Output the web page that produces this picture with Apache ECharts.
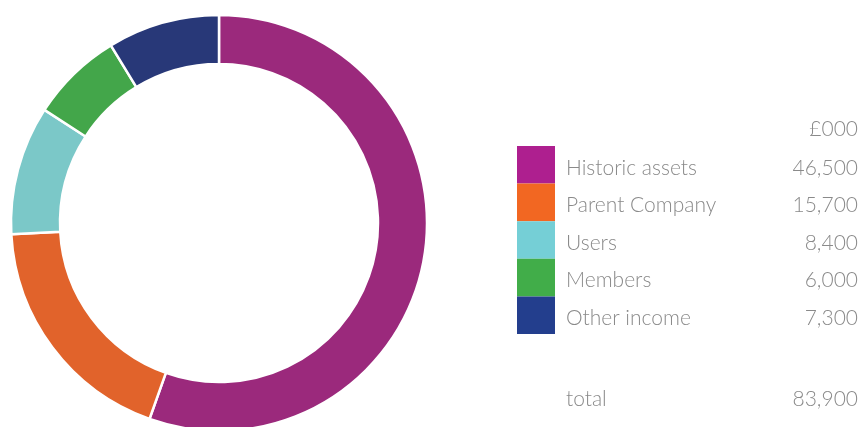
<!DOCTYPE html>
<html>
<head>
<meta charset="utf-8">
<script src="https://cdn.jsdelivr.net/npm/echarts@6/dist/echarts.min.js"></script>
<style>
  html, body {margin: 0; padding: 0; background: #fff;}
  #chart {width: 862px; height: 427px;}
</style>
</head>
<body>
<div id="chart"></div>
<script>
const categories = ['Historic assets', 'Parent Company', 'Users', 'Members', 'Other income'];
const values = [46500, 15700, 8400, 6000, 7300];
const valueLabels = ['46,500', '15,700', '8,400', '6,000', '7,300'];
const unitLabel = '£000';
const totalLabel = '83,900';
const ringColors = ['#9b297c', '#e1632b', '#7bc8c8', '#43a64a', '#283878'];
const keyColors = ['#ae1f8f', '#f26722', '#75cfd6', '#41ad49', '#233e8d'];

const font = 'Lato, "Open Sans", sans-serif';
const grey = '#8a8a8a';

const chart = echarts.init(document.getElementById('chart'));
chart.setOption({
  animation: false,
  legend: {
    orient: 'vertical',
    left: 517,
    top: 146,
    padding: 0,
    itemWidth: 38,
    itemHeight: 37.6,
    itemGap: 0,
    icon: 'rect',
    selectedMode: false,
    itemStyle: {borderWidth: 0},
    data: categories.map((c, i) => ({name: c, itemStyle: {color: keyColors[i], borderWidth: 0}})),
    formatter(name) {
      const i = categories.indexOf(name);
      return '{n|' + name + '}{v|' + valueLabels[i] + '}';
    },
    textStyle: {
      rich: {
        n: {width: 186, padding: [6, 0, 0, 6], fontFamily: font, fontWeight: 300, fontSize: 21, color: grey},
        v: {width: 106, align: 'right', padding: [6, 0, 0, 0], fontFamily: font, fontWeight: 300, fontSize: 21, color: grey}
      }
    }
  },
  graphic: [
    {type: 'text', right: 4, top: 119, style: {text: unitLabel, font: '300 21px ' + font, fill: grey}},
    {type: 'text', left: 566, top: 389, style: {text: 'total', font: '300 21px ' + font, fill: grey}},
    {type: 'text', right: 4, top: 389, style: {text: totalLabel, font: '300 21px ' + font, fill: grey}}
  ],
  series: [{
    type: 'pie',
    center: [219, 223],
    radius: [159, 208],
    startAngle: 90,
    clockwise: true,
    label: {show: false},
    labelLine: {show: false},
    emphasis: {disabled: true},
    itemStyle: {borderColor: '#fff', borderWidth: 2.5},
    data: categories.map((c, i) => ({name: c, value: values[i], itemStyle: {color: ringColors[i]}}))
  }]
});
</script>
</body>
</html>
